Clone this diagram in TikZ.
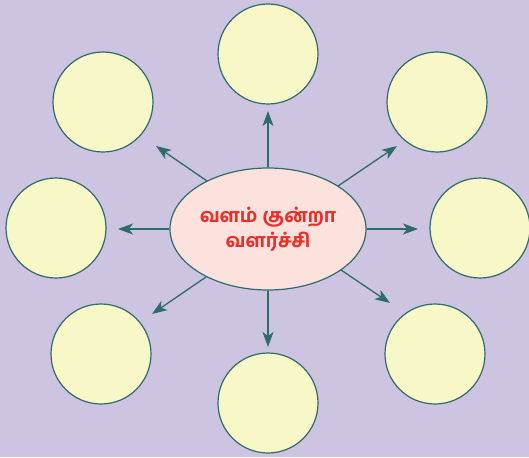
\documentclass[tikz,border=0pt]{standalone}
\usepackage{fontspec}
\newfontfamily\tamilfont[Script=Tamil,BoldFont={Hind Madurai Bold}]{Hind Madurai}
\usetikzlibrary{arrows.meta,shapes.geometric}
\definecolor{bgc}{HTML}{CDC4E1}
\definecolor{circfill}{HTML}{F8F7C8}
\definecolor{edgec}{HTML}{2F6B6A}
\definecolor{ellfill}{HTML}{FDE1DC}
\definecolor{txtc}{HTML}{E8302A}
\begin{document}
\begin{tikzpicture}[x=1pt,y=-1pt,
  bubble/.style={circle,draw=edgec,fill=circfill,line width=1.2pt,minimum size=100pt,inner sep=0pt},
  hub/.style={ellipse,draw=edgec,fill=ellfill,line width=1.2pt,minimum width=196pt,minimum height=122pt,inner sep=0pt,
    font=\tamilfont\bfseries\fontsize{19}{25}\selectfont,text=txtc,align=center},
  arr/.style={draw=edgec,line width=1.3pt,-{Stealth[length=15pt,width=11pt,inset=4pt]}}]
\fill[bgc] (0,0) rectangle (529,457);
\useasboundingbox (0,0) rectangle (529,457);
\node[bubble] (ct) at (268,54) {};
\node[bubble] (ctl) at (103,102) {};
\node[bubble] (ctr) at (437,102) {};
\node[bubble] (cl) at (56,228) {};
\node[bubble] (cr) at (480,228) {};
\node[bubble] (cbl) at (101,354) {};
\node[bubble] (cb) at (268,403) {};
\node[bubble] (cbr) at (435,354) {};
\node[hub] (e) at (268,229) {வளம் குன்றா\\வளர்ச்சி};
\coordinate (tt) at (268,111);
\coordinate (ttl) at (156,146);
\coordinate (ttr) at (397,146);
\coordinate (tl) at (118,229);
\coordinate (tr) at (418,229);
\coordinate (tbl) at (152,314);
\coordinate (tb) at (268,347);
\coordinate (tbr) at (390,303);
\draw[arr] (e.north) -- (tt);
\draw[arr] (207,181) -- (ttl);
\draw[arr] (338,186) -- (ttr);
\draw[arr] (e.west) -- (tl);
\draw[arr] (e.east) -- (tr);
\draw[arr] (206,277) -- (tbl);
\draw[arr] (e.south) -- (tb);
\draw[arr] (341,270) -- (tbr);
\end{tikzpicture}
\end{document}
